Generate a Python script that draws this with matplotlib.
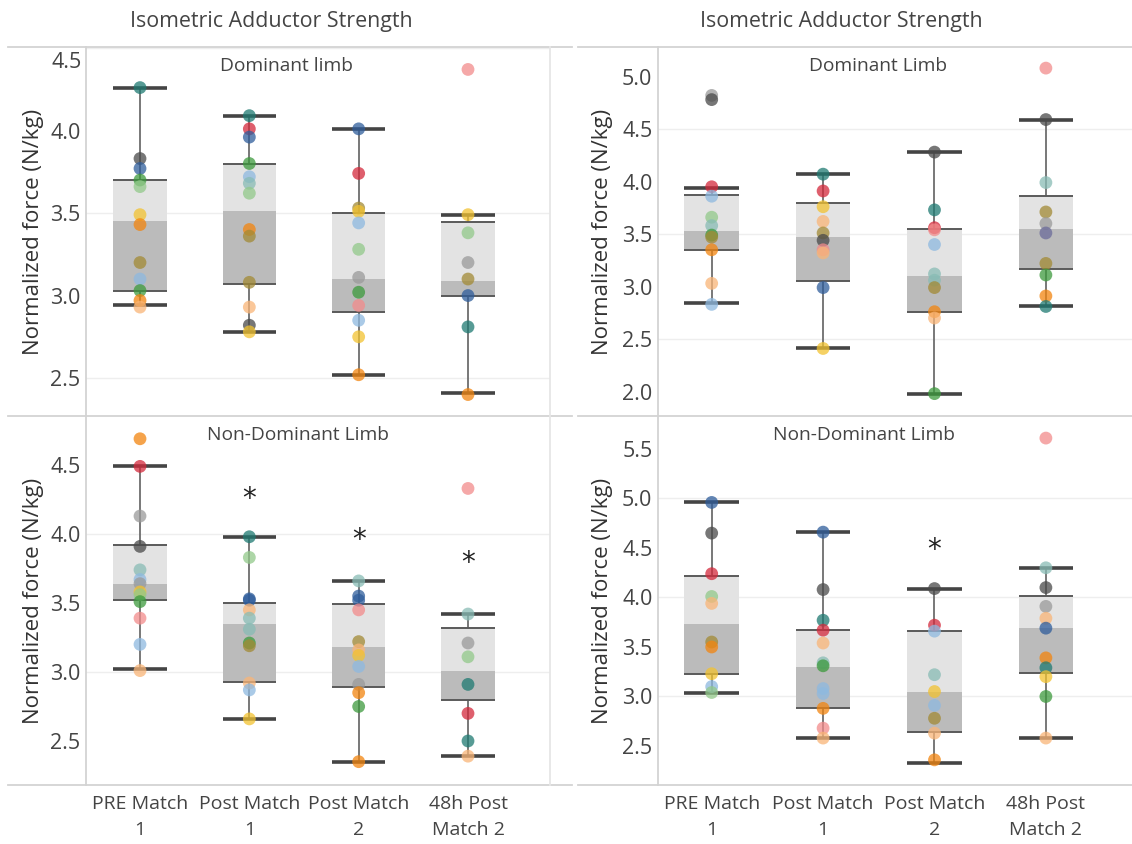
import matplotlib.pyplot as plt
from matplotlib.lines import Line2D
import numpy as np

plt.rcParams['font.family'] = ['Open Sans', 'DejaVu Sans']

# time points
groups = ["PRE Match\n1", "Post Match\n1", "Post Match\n2", "48h Post\nMatch 2"]

# player colours (tableau-like)
pal = {
    'tl': '#1f7a72', 'dg': '#4a4a4a', 'db': '#2f5d9b', 'rd': '#d42a3c',
    'or': '#f2850f', 'ye': '#f2c230', 'gr': '#3d9a3d', 'lg': '#92c98a',
    'lb': '#8eb9e0', 'ol': '#a28a35', 'pk': '#f28b8b', 'lt': '#88bcb5',
    'gy': '#9a9a9a', 'lo': '#f9b577', 'pu': '#6b6b9a',
}

# ---- left column, dominant limb ----
domL_vals = [
    [4.26, 3.83, 3.77, 3.70, 3.66, 3.49, 3.43, 3.20, 3.10, 3.03, 2.97, 2.93],
    [4.09, 4.01, 3.96, 3.80, 3.72, 3.68, 3.62, 3.40, 3.36, 3.08, 2.93, 2.82, 2.78],
    [4.01, 3.74, 3.53, 3.51, 3.44, 3.28, 3.11, 3.02, 2.94, 2.85, 2.75, 2.52],
    [4.37, 3.49, 3.38, 3.20, 3.10, 3.00, 2.81, 2.40],
]
domL_cols = [
    ['tl', 'dg', 'db', 'gr', 'lg', 'ye', 'or', 'ol', 'lb', 'gr', 'or', 'lo'],
    ['tl', 'rd', 'db', 'gr', 'lb', 'lt', 'lg', 'or', 'ol', 'ol', 'lo', 'dg', 'ye'],
    ['db', 'rd', 'ol', 'ye', 'lb', 'lg', 'gy', 'gr', 'pk', 'lb', 'ye', 'or'],
    ['pk', 'ye', 'lg', 'gy', 'ol', 'db', 'tl', 'or'],
]
# lo, q1, median, q3, hi
domL_box = [(2.94, 3.03, 3.45, 3.70, 4.26), (2.78, 3.07, 3.51, 3.80, 4.09),
            (2.52, 2.90, 3.10, 3.50, 4.01), (2.41, 3.00, 3.09, 3.445, 3.49)]

# ---- left column, non-dominant limb ----
ndomL_vals = [
    [4.69, 4.49, 4.13, 3.91, 3.74, 3.67, 3.64, 3.58, 3.56, 3.51, 3.39, 3.20, 3.01],
    [3.98, 3.83, 3.53, 3.52, 3.45, 3.39, 3.31, 3.21, 3.19, 2.92, 2.87, 2.66],
    [3.66, 3.55, 3.52, 3.45, 3.22, 3.16, 3.12, 3.04, 2.91, 2.85, 2.75, 2.35],
    [4.33, 3.42, 3.21, 3.11, 2.91, 2.70, 2.50, 2.39],
]
ndomL_cols = [
    ['or', 'rd', 'gy', 'dg', 'lt', 'lb', 'gy', 'ye', 'lg', 'gr', 'pk', 'lb', 'lo'],
    ['tl', 'lg', 'db', 'db', 'lo', 'lt', 'lt', 'gr', 'ol', 'lo', 'lb', 'ye'],
    ['lt', 'db', 'db', 'pk', 'ol', 'lo', 'ye', 'lb', 'gy', 'or', 'gr', 'or'],
    ['pk', 'lt', 'gy', 'lg', 'tl', 'rd', 'tl', 'lo'],
]
ndomL_box = [(3.02, 3.52, 3.64, 3.92, 4.49), (2.66, 2.93, 3.35, 3.50, 3.98),
             (2.35, 2.89, 3.18, 3.49, 3.66), (2.39, 2.80, 3.01, 3.32, 3.42)]
ndomL_stars = [None, 4.25, 3.96, 3.79]

# ---- right column, dominant limb ----
domR_vals = [
    [4.82, 4.78, 3.95, 3.86, 3.66, 3.58, 3.49, 3.47, 3.35, 3.03, 2.83],
    [4.07, 3.91, 3.76, 3.62, 3.51, 3.44, 3.35, 3.32, 2.99, 2.41],
    [4.28, 3.73, 3.56, 3.54, 3.40, 3.12, 3.06, 2.99, 2.76, 2.70, 1.98],
    [5.08, 4.59, 3.99, 3.71, 3.60, 3.51, 3.22, 3.11, 2.91, 2.81],
]
domR_cols = [
    ['gy', 'dg', 'rd', 'lb', 'lg', 'lt', 'gr', 'ol', 'or', 'lo', 'lb'],
    ['tl', 'rd', 'ye', 'lo', 'ol', 'dg', 'pk', 'lo', 'db', 'ye'],
    ['dg', 'tl', 'rd', 'pk', 'lb', 'lt', 'lt', 'ol', 'or', 'lo', 'gr'],
    ['pk', 'dg', 'lt', 'ol', 'gy', 'pu', 'ol', 'gr', 'or', 'tl'],
]
domR_box = [(2.84, 3.35, 3.53, 3.87, 3.94), (2.41, 3.05, 3.47, 3.80, 4.07),
            (1.98, 2.76, 3.10, 3.545, 4.28), (2.81, 3.17, 3.55, 3.86, 4.59)]

# ---- right column, non-dominant limb ----
ndomR_vals = [
    [4.96, 4.65, 4.24, 4.01, 3.94, 3.55, 3.50, 3.23, 3.10, 3.04],
    [4.66, 4.08, 3.77, 3.67, 3.54, 3.34, 3.31, 3.08, 3.03, 2.88, 2.68, 2.58],
    [4.09, 3.72, 3.66, 3.22, 3.05, 2.91, 2.78, 2.63, 2.36],
    [5.61, 4.30, 4.10, 3.91, 3.79, 3.69, 3.39, 3.29, 3.20, 3.00, 2.58],
]
ndomR_cols = [
    ['db', 'dg', 'rd', 'lg', 'lo', 'ol', 'or', 'ye', 'lb', 'lg'],
    ['db', 'dg', 'tl', 'rd', 'lo', 'lt', 'gr', 'lb', 'lb', 'or', 'pk', 'lo'],
    ['dg', 'rd', 'lb', 'lt', 'ye', 'lb', 'ol', 'lo', 'or'],
    ['pk', 'lt', 'dg', 'gy', 'lo', 'db', 'or', 'tl', 'ye', 'gr', 'lo'],
]
ndomR_box = [(3.04, 3.23, 3.73, 4.22, 4.96), (2.58, 2.88, 3.30, 3.67, 4.66),
             (2.33, 2.64, 3.05, 3.66, 4.09), (2.58, 3.24, 3.69, 4.01, 4.30)]
ndomR_stars = [None, None, 4.48, None]

W, H = 1132, 844
fig = plt.figure(figsize=(W / 100, H / 100), dpi=100)


def px_axes(left, top, right, bottom):
    return fig.add_axes([left / W, 1 - bottom / H, (right - left) / W, (bottom - top) / H])


def hline(x0, x1, y, color='#d3d3d3', lw=1.3):
    fig.add_artist(Line2D([x0 / W, x1 / W], [1 - y / H, 1 - y / H], color=color, lw=lw))


def vline(x, y0, y1, color='#d3d3d3', lw=1.3):
    fig.add_artist(Line2D([x / W, x / W], [1 - y0 / H, 1 - y1 / H], color=color, lw=lw))


def draw_panel(ax, vals, cols, boxes, xlim, ylim, ticks, grid, note, note_x, ylab_x,
               stars=None, xlabels=False):
    w = 0.49
    for g in grid:
        ax.axhline(g, color='#eeeeee', lw=1, zorder=0)
    for i, (lo, q1, med, q3, hi) in enumerate(boxes):
        ax.vlines(i, lo, hi, color='#6d6d6d', lw=1.3, zorder=1)
        ax.bar(i, q3 - med, bottom=med, width=w, color='#e3e3e3', zorder=2)
        ax.bar(i, med - q1, bottom=q1, width=w, color='#bbbbbb', zorder=2)
        ax.hlines([q1, q3], i - w / 2, i + w / 2, color='#5a5a5a', lw=1.4, zorder=2.5)
        ax.hlines([lo, hi], i - w / 2, i + w / 2, color='#444444', lw=2.6, zorder=2.5)
        ax.scatter(np.full(len(vals[i]), i), vals[i], c=[pal[c] for c in cols[i]],
                   s=85, alpha=0.75, edgecolors='none', zorder=3)
        if stars is not None and stars[i] is not None:
            ax.text(i, stars[i], '*', ha='center', va='center', fontsize=20, color='#222222',
                    family='DejaVu Sans')
    ax.set_xlim(*xlim)
    ax.set_ylim(*ylim)
    ax.set_yticks(ticks)
    labels = ['%.1f' % t for t in ticks]
    # tableau keeps the top label inside the pane
    if ylim[1] - ticks[-1] < 0.03 * (ylim[1] - ylim[0]):
        ax.annotate(labels[-1], xy=(0, ticks[-1]), xycoords=('axes fraction', 'data'),
                    xytext=(-4, -15), textcoords='offset pixels', ha='right', va='center',
                    fontsize=15.5, color='#444444')
        labels[-1] = ''
    ax.set_yticklabels(labels, fontsize=15.5, color='#444444')
    ax.tick_params(axis='y', length=0, pad=4)
    ax.set_xticks(range(len(groups)))
    if xlabels:
        ax.set_xticklabels(groups, fontsize=14, color='#444444', linespacing=1.6)
        ax.tick_params(axis='x', length=0, pad=7)
    else:
        ax.set_xticklabels([])
        ax.tick_params(axis='x', length=0)
    for s in ax.spines.values():
        s.set_visible(False)
    ax.set_ylabel('Normalized force (N/kg)', fontsize=16, color='#333333')
    ax.yaxis.set_label_coords(ylab_x, 0.5)
    ax.text(note_x, 0.948, note, transform=ax.transAxes, ha='center', va='center',
            fontsize=13.8, color='#444444')
    ax.patch.set_alpha(0)


# left column
ax = px_axes(86, 47, 550, 416)
draw_panel(ax, domL_vals, domL_cols, domL_box, (-0.494, 3.75), (2.27, 4.506),
           [2.5, 3.0, 3.5, 4.0, 4.5], [2.5, 3.5, 4.5], 'Dominant limb', 0.433, -42 / 464)
ax = px_axes(86, 416, 550, 785)
draw_panel(ax, ndomL_vals, ndomL_cols, ndomL_box, (-0.494, 3.75), (2.181, 4.855),
           [2.5, 3.0, 3.5, 4.0, 4.5], [3.0, 4.0], 'Non-Dominant Limb', 0.457, -42 / 464,
           stars=ndomL_stars, xlabels=True)

# right column
ax = px_axes(658, 47, 1132, 416)
draw_panel(ax, domR_vals, domR_cols, domR_box, (-0.482, 3.773), (1.767, 5.281),
           [2.0, 2.5, 3.0, 3.5, 4.0, 4.5, 5.0], [2.5, 3.5, 4.5], 'Dominant Limb', 0.464,
           -45 / 474)
ax = px_axes(658, 416, 1132, 785)
draw_panel(ax, ndomR_vals, ndomR_cols, ndomR_box, (-0.482, 3.773), (2.106, 5.833),
           [2.5, 3.0, 3.5, 4.0, 4.5, 5.0, 5.5], [3.0, 4.0, 5.0], 'Non-Dominant Limb', 0.435,
           -45 / 474, stars=ndomR_stars, xlabels=True)

# frame lines in tableau style
for y in (47, 416, 785):
    hline(8, 572, y)
    hline(578, 1132, y)
vline(86, 47, 785)
vline(658, 47, 785)
vline(550, 47, 785, color='#e6e6e6')

fig.text(271 / W, 1 - 22 / H, 'Isometric Adductor Strength', ha='center', va='center',
         fontsize=15.4, color='#444444')
fig.text(841 / W, 1 - 22 / H, 'Isometric Adductor Strength', ha='center', va='center',
         fontsize=15.4, color='#444444')

fig.savefig('out.png', dpi=100)
